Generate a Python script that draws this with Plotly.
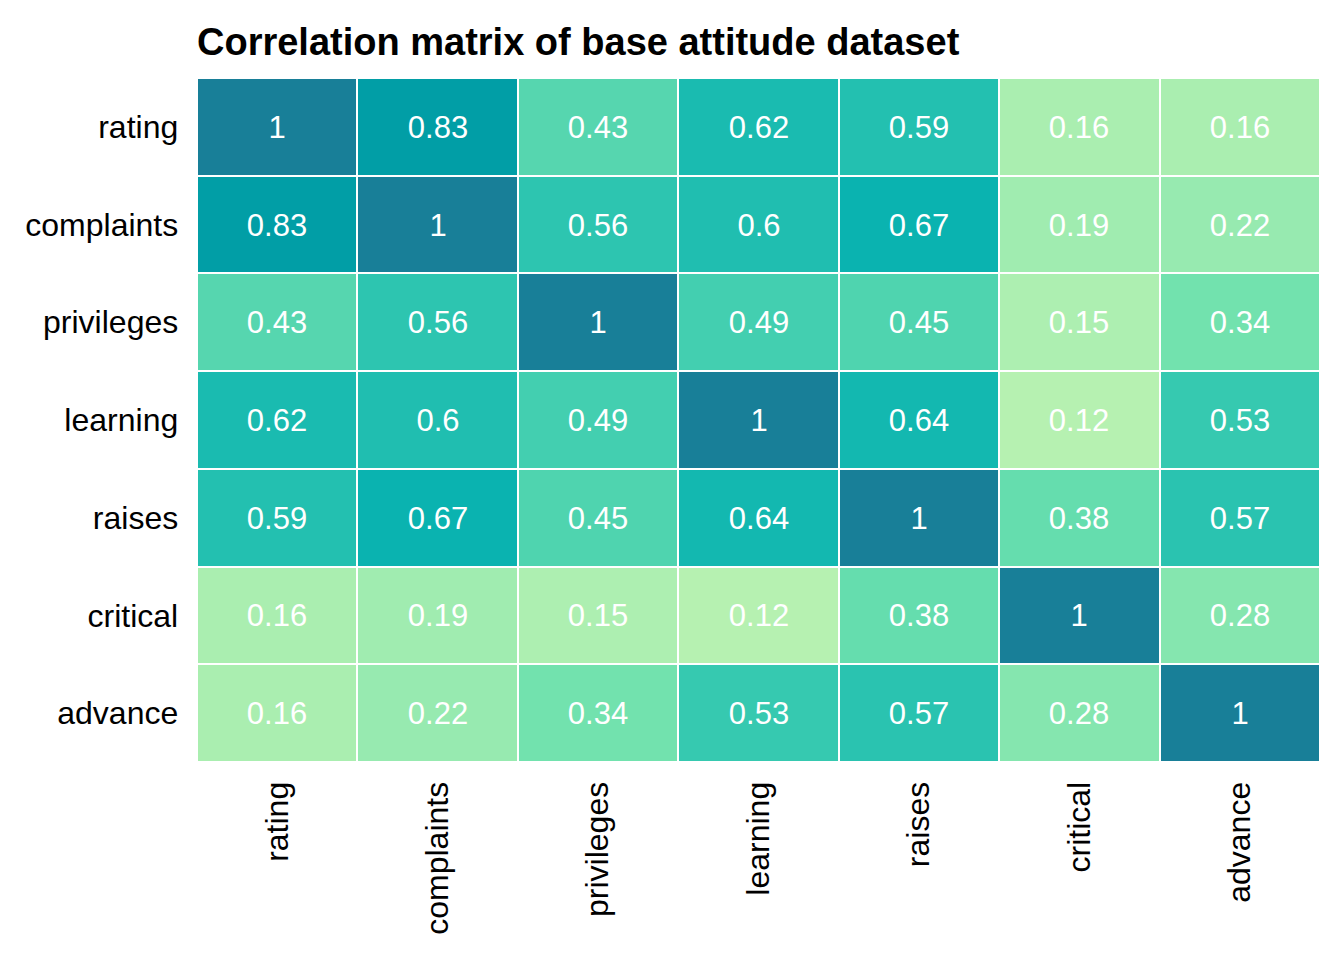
import plotly.graph_objects as go

variables = ["rating", "complaints", "privileges", "learning", "raises", "critical", "advance"]

# correlation values, row by row (same order as variables)
rating = [1, 0.83, 0.43, 0.62, 0.59, 0.16, 0.16]
complaints = [0.83, 1, 0.56, 0.6, 0.67, 0.19, 0.22]
privileges = [0.43, 0.56, 1, 0.49, 0.45, 0.15, 0.34]
learning = [0.62, 0.6, 0.49, 1, 0.64, 0.12, 0.53]
raises = [0.59, 0.67, 0.45, 0.64, 1, 0.38, 0.57]
critical = [0.16, 0.19, 0.15, 0.12, 0.38, 1, 0.28]
advance = [0.16, 0.22, 0.34, 0.53, 0.57, 0.28, 1]

corr = [rating, complaints, privileges, learning, raises, critical, advance]

colorscale = [
    [0.0, "#b6f1b1"],
    [0.25, "#72e2ae"],
    [0.47, "#35c9b0"],
    [0.625, "#0ab3b0"],
    [0.807, "#019ea6"],
    [1.0, "#187f98"],
]

fig = go.Figure(go.Heatmap(
    z=corr,
    x=variables,
    y=variables,
    text=[[f"{v:g}" for v in row] for row in corr],
    texttemplate="%{text}",
    textfont=dict(family="Liberation Sans, Arial", size=31, color="white"),
    colorscale=colorscale,
    zmin=0.12,
    zmax=1,
    xgap=2,
    ygap=2,
    showscale=False,
    hoverinfo="skip",
))

# the page body adds 8px around the figure, so size it a bit smaller
fig.update_layout(
    width=1336,
    height=952,
    margin=dict(l=189, r=24, t=70, b=198),
    paper_bgcolor="white",
    plot_bgcolor="white",
    font=dict(family="Liberation Sans, Arial", color="black"),
    title=dict(
        text="<b>Correlation matrix of base attitude dataset</b>",
        x=0, xref="paper", xanchor="left",
        y=1 - 34 / 952, yref="container", yanchor="middle",
        font=dict(size=38, color="black"),
    ),
)

fig.update_xaxes(tickangle=-90, tickfont=dict(size=32), showgrid=False,
                 zeroline=False, ticks="outside", ticklen=6,
                 tickcolor="rgba(0,0,0,0)")
fig.update_yaxes(autorange="reversed", tickfont=dict(size=32), showgrid=False,
                 zeroline=False, ticks="", ticksuffix="  ")

fig.write_html("out.html")
